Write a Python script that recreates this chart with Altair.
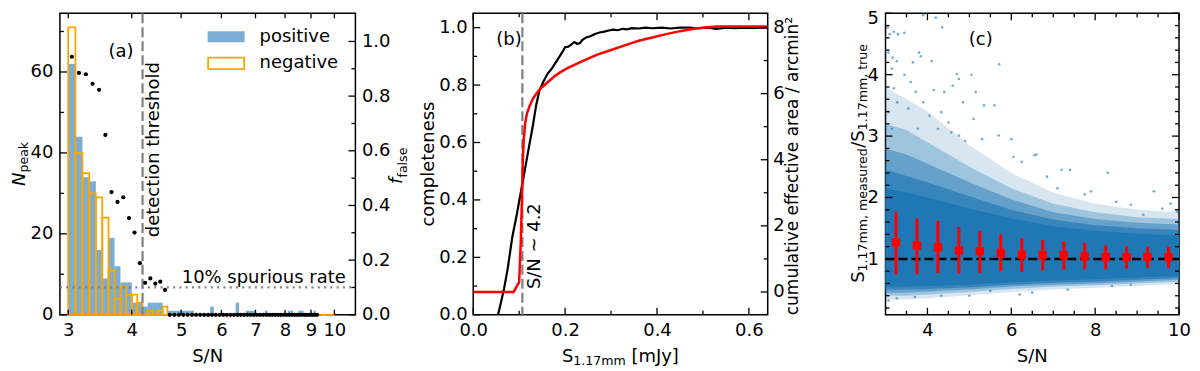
import altair as alt
import pandas as pd

FONT = "DejaVu Sans"
FS = 18.0
FSUB = 12.6
BLUE = "#1f77b4"
ORANGE = "#ffa500"
GREY = "#808080"

WA, WB, WC = 296, 295, 294
H = 302
SPACING = 118
BIN = 0.1

# ---------------- panel (a) data ----------------
pos_lo = [3.0, 3.1, 3.2, 3.3, 3.4, 3.5, 3.6, 3.7, 3.8, 3.9, 4.0, 4.1, 4.2, 4.3, 4.4, 4.5,
          4.7, 4.8, 4.9, 5.0, 5.1, 5.2, 5.7, 6.4, 6.7, 6.8, 6.9, 7.3, 8.1, 8.2, 8.5, 8.6, 9.1]
pos_n = [62, 44, 34, 33, 16, 9, 19, 12, 8, 8, 3, 3, 2, 3, 3, 3,
         1, 1, 1, 1, 1, 1, 2, 3, 1, 1, 1, 1, 1, 1, 1, 1, 1]
neg_lo = [3.0, 3.1, 3.2, 3.3, 3.4, 3.5, 3.6, 3.7, 3.8, 3.9, 4.0, 4.1, 4.2, 4.3, 4.4, 4.5, 4.6,
          4.7, 4.8, 4.9, 5.0, 5.1, 5.2, 5.3, 5.4, 5.5, 5.6, 5.7, 5.8, 5.9, 6.0, 6.1, 6.2,
          6.3, 6.4, 6.5, 6.6, 6.7, 6.8, 6.9, 7.0, 7.1, 7.2, 7.3, 7.4, 7.5, 7.6, 7.7, 7.8,
          7.9, 8.0, 8.1, 8.2, 8.3, 8.4, 8.5, 8.6, 8.7, 8.8, 8.9, 9.0, 9.1, 9.2, 9.3, 9.4,
          9.5, 9.6, 9.7, 9.8, 9.9]
neg_n = [71, 40, 35, 30, 29, 24, 11, 4, 7, 5, 5, 3, 0, 1, 0, 1, 2,
         0, 0, 0, 0, 0, 0, 0, 0, 0, 0, 0, 0, 0, 0, 0, 0,
         0, 0, 0, 0, 0, 0, 0, 0, 0, 0, 0, 0, 0, 0, 0, 0,
         0, 0, 0, 0, 0, 0, 0, 0, 0, 0, 0, 0, 0, 0, 0, 0,
         0, 0, 0, 0, 0]
ff_sn = [3.05, 3.15, 3.25, 3.35, 3.45, 3.55, 3.65, 3.75, 3.85, 3.95, 4.05, 4.15, 4.25,
         4.35, 4.45, 4.55, 4.65, 4.75, 4.85, 4.95, 5.05, 5.15, 5.25, 5.35, 5.45, 5.55,
         5.65, 5.75, 5.85, 5.95, 6.05, 6.15, 6.25, 6.35, 6.45, 6.55, 6.65, 6.75, 6.85,
         6.95, 7.05, 7.15, 7.25, 7.35, 7.45, 7.55, 7.65, 7.75, 7.85, 7.95, 8.05, 8.15,
         8.25, 8.35, 8.45, 8.55, 8.65, 8.75, 8.85, 8.95, 9.05, 9.15, 9.25]
ff_val = [0.944, 0.885, 0.880, 0.845, 0.823, 0.658, 0.449, 0.413, 0.430, 0.354, 0.301,
          0.189, 0.117, 0.133, 0.114, 0.121, 0.091, 0, 0, 0, 0, 0, 0, 0, 0, 0,
          0, 0, 0, 0, 0, 0, 0, 0, 0, 0, 0, 0, 0,
          0, 0, 0, 0, 0, 0, 0, 0, 0, 0, 0, 0, 0,
          0, 0, 0, 0, 0, 0, 0, 0, 0, 0, 0]
threshold_sn = [4.2]
spurious_rate = [0.1]
legend_labels = ["positive", "negative"]

a_xticks = [3, 4, 5, 6, 7, 8, 9, 10]
a_yticks = [0, 20, 40, 60]
a_yminor = [10, 30, 50, 70]
a_fticks = [0.0, 0.2, 0.4, 0.6, 0.8, 1.0]
a_fminor = [0.1, 0.3, 0.5, 0.7, 0.9]

# ---------------- panel (b) data ----------------
comp_s = [0.054, 0.060, 0.067, 0.075, 0.085, 0.095, 0.104, 0.113, 0.122, 0.130, 0.137,
          0.144, 0.152, 0.162, 0.170, 0.178, 0.186, 0.194, 0.200, 0.207, 0.214, 0.220,
          0.226, 0.232, 0.238, 0.246, 0.255, 0.265, 0.275, 0.285, 0.295, 0.305, 0.315,
          0.325, 0.335, 0.345, 0.36, 0.375, 0.39, 0.41, 0.43, 0.45, 0.47, 0.49, 0.51,
          0.53, 0.55, 0.57, 0.59, 0.61, 0.64]
comp_c = [0.0, 0.04, 0.09, 0.16, 0.27, 0.35, 0.43, 0.51, 0.59, 0.66, 0.73,
          0.78, 0.81, 0.84, 0.855, 0.875, 0.895, 0.915, 0.932, 0.934, 0.942, 0.950,
          0.944, 0.946, 0.958, 0.966, 0.970, 0.978, 0.983, 0.986, 0.990, 0.993, 0.991,
          0.996, 0.994, 0.998, 0.997, 1.0, 0.998, 1.0, 0.997, 1.0, 1.0, 0.998, 1.0,
          0.996, 1.0, 0.998, 1.0, 0.999, 1.0]
area_s = [0.0, 0.088, 0.098, 0.100, 0.1035, 0.106, 0.108, 0.110, 0.113, 0.117, 0.122,
          0.130, 0.140, 0.150, 0.160, 0.175, 0.190, 0.205, 0.225, 0.245, 0.27, 0.30,
          0.33, 0.36, 0.39, 0.42, 0.45, 0.48, 0.51, 0.53, 0.64]
area_v = [0.0, 0.0, 0.25, 0.3, 1.5, 2.8, 4.0, 4.6, 5.1, 5.4, 5.6,
          5.85, 6.05, 6.2, 6.32, 6.5, 6.65, 6.77, 6.9, 7.03, 7.18, 7.32,
          7.46, 7.6, 7.7, 7.8, 7.89, 7.96, 8.01, 8.03, 8.03]
sn42_flux = [0.107]

b_xticks = [0.0, 0.2, 0.4, 0.6]
b_xminor = [0.1, 0.3, 0.5]
b_yticks = [0.0, 0.2, 0.4, 0.6, 0.8, 1.0]
b_yminor = [0.1, 0.3, 0.5, 0.7, 0.9]
b_rticks = [0, 2, 4, 6, 8]
b_rminor = [1, 3, 5, 7]

# ---------------- panel (c) data ----------------
band_sn = [3.0, 3.5, 4.0, 5.0, 6.0, 7.0, 8.0, 9.0, 10.0]
core_lo = [0.55, 0.55, 0.56, 0.58, 0.62, 0.65, 0.67, 0.70, 0.72]
core_hi = [2.15, 2.08, 2.0, 1.82, 1.66, 1.53, 1.46, 1.41, 1.38]
b1_lo = [0.50, 0.50, 0.51, 0.54, 0.58, 0.61, 0.63, 0.66, 0.69]
b1_hi = [2.45, 2.35, 2.25, 2.02, 1.80, 1.64, 1.55, 1.50, 1.47]
b2_lo = [0.45, 0.45, 0.47, 0.50, 0.55, 0.58, 0.60, 0.63, 0.66]
b2_hi = [2.80, 2.70, 2.55, 2.25, 1.97, 1.76, 1.65, 1.59, 1.56]
b3_lo = [0.40, 0.40, 0.42, 0.46, 0.51, 0.55, 0.57, 0.60, 0.63]
b3_hi = [3.20, 3.10, 2.90, 2.50, 2.15, 1.90, 1.76, 1.68, 1.65]
b4_lo = [0.34, 0.34, 0.36, 0.41, 0.46, 0.50, 0.53, 0.56, 0.59]
b4_hi = [3.80, 3.60, 3.40, 2.85, 2.40, 2.08, 1.90, 1.80, 1.76]

out_sn = [3.05, 3.1, 3.2, 3.3, 3.45, 3.9, 4.2, 4.35, 3.07, 3.17, 3.27, 3.65, 3.8, 3.84, 4.1,
          4.7, 4.75, 5.05, 5.71, 4.15, 4.4, 4.6, 4.85, 5.15, 5.35, 5.1, 5.6, 5.7, 6.0, 5.3,
          4.75, 4.9, 6.55, 6.6, 7.2, 7.4, 8.3, 7.9, 7.75, 9.4, 9.8, 8.85, 8.5, 6.25, 6.05,
          6.85, 7.1, 9.15, 9.6, 9.95, 3.15, 3.45, 3.6, 3.2, 3.72, 3.28, 3.54, 3.9, 4.05,
          4.33, 4.5, 4.57, 4.25, 3.77, 3.07, 3.15,
          6.2, 7.35, 6.5, 3.07, 3.27, 3.7, 4.33, 5.0, 5.5, 8.4, 8.85, 3.02]
out_val = [4.77, 4.66, 4.70, 4.66, 4.68, 4.97, 4.93, 4.77, 4.36, 4.28, 4.22, 4.20, 4.36, 4.30, 4.22,
           4.01, 3.93, 4.0, 4.17, 3.75, 3.72, 3.82, 3.55, 3.72, 3.5, 3.28, 3.5, 3.01, 2.95, 2.95,
           3.01, 2.92, 2.69, 2.7, 2.45, 2.45, 2.4, 2.1, 2.05, 2.1, 1.9, 1.88, 1.93, 2.58, 2.66,
           2.34, 2.15, 1.72, 1.82, 1.77, 4.1, 4.0, 3.88, 3.78, 3.72, 3.55, 3.45, 3.55, 3.33,
           3.39, 3.22, 3.06, 3.12, 3.12, 3.39, 3.12,
           0.42, 0.5, 0.45, 0.32, 0.36, 0.38, 0.4, 0.4, 0.48, 0.56, 0.58, 0.2]

eb_sn = [3.25, 3.75, 4.25, 4.75, 5.25, 5.75, 6.25, 6.75, 7.25, 7.75, 8.25, 8.75, 9.25, 9.75]
eb_med = [1.27, 1.22, 1.19, 1.14, 1.125, 1.10, 1.07, 1.06, 1.06, 1.04, 1.03, 1.03, 1.03, 1.03]
eb_lo = [0.75, 0.75, 0.77, 0.76, 0.77, 0.80, 0.79, 0.81, 0.82, 0.83, 0.83, 0.84, 0.85, 0.85]
eb_hi = [1.77, 1.66, 1.62, 1.52, 1.45, 1.40, 1.34, 1.31, 1.29, 1.26, 1.22, 1.21, 1.20, 1.20]
unity = [1.0]

c_xticks = [4, 6, 8, 10]
c_xminor = [3.5, 4.5, 5, 5.5, 6.5, 7, 7.5, 8.5, 9, 9.5]
c_yticks = [1, 2, 3, 4, 5]
c_yminor = [0.2, 0.4, 0.6, 0.8, 1.2, 1.4, 1.6, 1.8, 2.2, 2.4, 2.6, 2.8, 3.2, 3.4, 3.6, 3.8,
            4.2, 4.4, 4.6, 4.8]

# ---------------- helpers ----------------
def lab_axis(orient, values, fmt, pad, offset=0):
    return alt.Axis(orient=orient, values=values, format=fmt, ticks=False, tickSize=0,
                    domain=False, grid=False, labelFont=FONT, labelFontSize=FS,
                    labelColor="black", labelPadding=pad, labelFlush=False,
                    labelOverlap=False, labelBound=False, labelOffset=offset, title=None)


def txt(s, x, y, size=FS, angle=0, align="center", baseline="middle", style="normal"):
    return alt.Chart(pd.DataFrame({"t": [s]})).mark_text(
        font=FONT, fontSize=size, angle=angle, align=align, baseline=baseline,
        fontStyle=style, color="black").encode(text="t:N", x=alt.value(x), y=alt.value(y))


def dtxt(s, xv, yv, xs, ys, size=FS, angle=0, align="center", baseline="middle"):
    return alt.Chart(pd.DataFrame({"t": [s], "x": [xv], "y": [yv]})).mark_text(
        font=FONT, fontSize=size, angle=angle, align=align, baseline=baseline,
        color="black").encode(text="t:N", x=alt.X("x:Q", scale=xs, axis=None),
                              y=alt.Y("y:Q", scale=ys, axis=None))


def xtick_layers(vals, scale, length):
    b = alt.Chart(pd.DataFrame({"v": vals})).mark_rule(color="black", strokeWidth=1.3)
    ex = alt.X("v:Q", scale=scale, axis=None)
    return [b.encode(x=ex, y=alt.value(H), y2=alt.value(H - length)),
            b.encode(x=ex, y=alt.value(0), y2=alt.value(length))]


def ytick_layer(vals, scale, length, side, W):
    b = alt.Chart(pd.DataFrame({"v": vals})).mark_rule(color="black", strokeWidth=1.3)
    ey = alt.Y("v:Q", scale=scale, axis=None)
    if side == "left":
        return b.encode(y=ey, x=alt.value(0), x2=alt.value(length))
    return b.encode(y=ey, x=alt.value(W), x2=alt.value(W - length))


# ---------------- panel (a) ----------------
xa = alt.Scale(type="log", domain=[2.89, 11.0], nice=False)
ya = alt.Scale(domain=[0, 74.5], nice=False, zero=False)
fa = alt.Scale(domain=[0, 1.103], nice=False, zero=False)

pos_df = pd.DataFrame({"lo": pos_lo, "n": pos_n})
neg_df = pd.DataFrame({"lo": neg_lo, "n": neg_n})

blue = alt.Chart(pos_df).transform_calculate(hi=f"datum.lo + {BIN}").mark_rect(
    color=BLUE, opacity=0.6).encode(
    x=alt.X("lo:Q", scale=xa, axis=lab_axis("bottom", a_xticks, "d", 7)),
    x2="hi:Q",
    y=alt.Y("n:Q", scale=ya, axis=lab_axis("left", a_yticks, "d", 7)),
    y2=alt.datum(0))
orange = alt.Chart(neg_df).transform_calculate(hi=f"datum.lo + {BIN}").mark_rect(
    filled=False, color=ORANGE, strokeWidth=1.8).encode(
    x=alt.X("lo:Q", scale=xa, axis=None), x2="hi:Q",
    y=alt.Y("n:Q", scale=ya, axis=None), y2=alt.datum(0))
thr = alt.Chart(pd.DataFrame({"sn": threshold_sn})).mark_rule(
    color=GREY, strokeDash=[10, 4], strokeWidth=2.2).encode(
    x=alt.X("sn:Q", scale=xa, axis=None), y=alt.value(0), y2=alt.value(H))
spur = alt.Chart(pd.DataFrame({"f": spurious_rate})).mark_rule(
    color=GREY, strokeDash=[2, 4.3], strokeWidth=2.2).encode(
    y=alt.Y("f:Q", scale=fa, axis=None), x=alt.value(0), x2=alt.value(WA))
ffp = alt.Chart(pd.DataFrame({"sn": ff_sn, "f": ff_val})).mark_circle(
    size=18, color="black", opacity=1).encode(
    x=alt.X("sn:Q", scale=xa, axis=None),
    y=alt.Y("f:Q", scale=fa, axis=lab_axis("right", a_fticks, ".1f", 6)))

leg_pos = alt.Chart(pd.DataFrame({"t": [legend_labels[0]]})).mark_rect(
    color=BLUE, opacity=0.6).encode(x=alt.value(148), x2=alt.value(185),
                                    y=alt.value(18), y2=alt.value(29))
leg_neg = alt.Chart(pd.DataFrame({"t": [legend_labels[1]]})).mark_rect(
    filled=False, color=ORANGE, strokeWidth=1.8).encode(
    x=alt.value(148.5), x2=alt.value(184.5), y=alt.value(44.5), y2=alt.value(56))

a_layers = [blue, orange, thr, spur, ffp, leg_pos, leg_neg,
            txt(legend_labels[0], 200, 23.5, align="left"),
            txt(legend_labels[1], 200, 50, align="left"),
            dtxt("(a)", 3.81, 65, xa, ya),
            dtxt("detection threshold", 4.43, 40.8, xa, ya, angle=270),
            dtxt("10% spurious rate", 10.53, 0.116, xa, fa, align="right", baseline="alphabetic"),
            txt("S/N", WA / 2, H + 47.7, baseline="alphabetic"),
            txt("N", -35, H / 2 + 22, angle=270, align="left", baseline="alphabetic", style="italic"),
            txt("peak", -32, H / 2 + 8.5, size=FSUB, angle=270, align="left", baseline="alphabetic"),
            txt("f", WA + 47, H / 2 + 20, angle=270, align="left", baseline="alphabetic", style="italic"),
            txt("false", WA + 52, H / 2 + 13.5, size=FSUB, angle=270, align="left", baseline="alphabetic"),
            ]
a_layers += xtick_layers(a_xticks, xa, 5)
a_layers += [ytick_layer(a_yticks, ya, 7, "left", WA), ytick_layer(a_yminor, ya, 4, "left", WA),
             ytick_layer(a_fticks, fa, 7, "right", WA), ytick_layer(a_fminor, fa, 4, "right", WA)]
pa = alt.layer(*a_layers).resolve_scale(y="independent").resolve_axis(
    x="independent", y="independent").properties(width=WA, height=H)

# ---------------- panel (b) ----------------
xb = alt.Scale(domain=[0, 0.641], nice=False, zero=False)
yb = alt.Scale(domain=[0, 1.05], nice=False, zero=False)
rb = alt.Scale(domain=[-0.69, 8.43], nice=False, zero=False)

comp = alt.Chart(pd.DataFrame({"s": comp_s, "c": comp_c})).mark_line(
    color="black", strokeWidth=2.2).encode(
    x=alt.X("s:Q", scale=xb, axis=lab_axis("bottom", b_xticks, ".1f", 7)),
    y=alt.Y("c:Q", scale=yb, axis=lab_axis("left", b_yticks, ".1f", 6)))
areal = alt.Chart(pd.DataFrame({"s": area_s, "a": area_v})).mark_line(
    color="red", strokeWidth=2.5).encode(
    x=alt.X("s:Q", scale=xb, axis=None),
    y=alt.Y("a:Q", scale=rb, axis=lab_axis("right", b_rticks, "d", 5)))
vline_b = alt.Chart(pd.DataFrame({"s": sn42_flux})).mark_rule(
    color=GREY, strokeDash=[10, 4], strokeWidth=2.2).encode(
    x=alt.X("s:Q", scale=xb, axis=None), y=alt.value(0), y2=alt.value(H))

b_layers = [vline_b, comp, areal,
            dtxt("(b)", 0.078, 0.958, xb, yb),
            dtxt("S/N ~ 4.2", 0.135, 0.239, xb, yb, angle=270),
            txt("completeness", -44, H / 2, angle=270),
            txt("cumulative effective area / arcmin²", WB + 25, H / 2 + 2, size=17, angle=270),
            txt("S", WB / 2 - 58.6, H + 47.7, align="left", baseline="alphabetic"),
            txt("1.17mm", WB / 2 - 47.2, H + 50.5, size=FSUB, align="left", baseline="alphabetic"),
            txt("[mJy]", WB / 2 + 11, H + 47.7, align="left", baseline="alphabetic"),
            ]
b_layers += xtick_layers(b_xticks, xb, 7) + xtick_layers(b_xminor, xb, 4)
b_layers += [ytick_layer(b_yticks, yb, 7, "left", WB), ytick_layer(b_yminor, yb, 4, "left", WB),
             ytick_layer(b_rticks, rb, 7, "right", WB), ytick_layer(b_rminor, rb, 4, "right", WB)]
pb = alt.layer(*b_layers).resolve_scale(y="independent").resolve_axis(
    x="independent", y="independent").properties(width=WB, height=H)

# ---------------- panel (c) ----------------
xc = alt.Scale(domain=[3, 10], nice=False, zero=False)
yc = alt.Scale(domain=[0.09, 5], nice=False, zero=False)

band_df = pd.DataFrame({"sn": band_sn, "clo": core_lo, "chi": core_hi,
                        "l1": b1_lo, "h1": b1_hi, "l2": b2_lo, "h2": b2_hi,
                        "l3": b3_lo, "h3": b3_hi, "l4": b4_lo, "h4": b4_hi})
bx = alt.X("sn:Q", scale=xc, axis=None)


def band(lo, hi, op):
    return alt.Chart(band_df).mark_area(color=BLUE, opacity=op).encode(
        x=bx, y=alt.Y(f"{lo}:Q", scale=yc, axis=None), y2=f"{hi}:Q")


top_label_shift = {"condition": {"test": "datum.value >= 5", "value": 5.5}, "value": 0.5}
core = alt.Chart(band_df).mark_area(color=BLUE, opacity=1).encode(
    x=alt.X("sn:Q", scale=xc, axis=lab_axis("bottom", c_xticks, "d", 7)),
    y=alt.Y("clo:Q", scale=yc, axis=lab_axis("left", c_yticks, "d", 7, top_label_shift)),
    y2="chi:Q")
outl = alt.Chart(pd.DataFrame({"sn": out_sn, "v": out_val})).mark_circle(
    size=7, color=BLUE, opacity=0.6).encode(x=bx, y=alt.Y("v:Q", scale=yc, axis=None))
one = alt.Chart(pd.DataFrame({"v": unity})).mark_rule(
    color="black", strokeDash=[9, 4], strokeWidth=2.5).encode(
    y=alt.Y("v:Q", scale=yc, axis=None), x=alt.value(0), x2=alt.value(WC))
eb_df = pd.DataFrame({"sn": eb_sn, "m": eb_med, "lo": eb_lo, "hi": eb_hi})
ebars = alt.Chart(eb_df).mark_rule(color="red", strokeWidth=3).encode(
    x=bx, y=alt.Y("lo:Q", scale=yc, axis=None), y2="hi:Q")
sq = alt.Chart(eb_df).mark_square(size=70, color="red", opacity=1).encode(
    x=bx, y=alt.Y("m:Q", scale=yc, axis=None))

ylab_start = H / 2 + 119
c_layers = [band("l4", "h4", 0.18), band("l3", "h3", 0.3), band("l2", "h2", 0.45),
            band("l1", "h1", 0.65), core, outl, one, ebars, sq,
            dtxt("(c)", 5.27, 4.57, xc, yc),
            txt("S/N", WC / 2, H + 47.7, baseline="alphabetic"),
            txt("S", -22, ylab_start, angle=270, align="left", baseline="alphabetic"),
            txt("1.17mm, measured", -19, ylab_start - 11.4, size=FSUB, angle=270, align="left",
                baseline="alphabetic"),
            txt("/S", -22, ylab_start - 135.3, angle=270, align="left", baseline="alphabetic"),
            txt("1.17mm, true", -19, ylab_start - 152.8, size=FSUB, angle=270, align="left",
                baseline="alphabetic"),
            ]
c_layers += xtick_layers(c_xticks, xc, 7) + xtick_layers(c_xminor, xc, 4)
c_layers += [ytick_layer(c_yticks, yc, 7, "left", WC), ytick_layer(c_yminor, yc, 4, "left", WC),
             ytick_layer(c_yticks, yc, 7, "right", WC), ytick_layer(c_yminor, yc, 4, "right", WC)]
pc = alt.layer(*c_layers).resolve_axis(x="independent", y="independent").properties(
    width=WC, height=H)

chart = alt.hconcat(pa, pb, pc, spacing=SPACING, bounds="flush").properties(
    padding={"left": 2, "top": 0, "right": 0, "bottom": 0}
).configure(font=FONT).configure_view(stroke="black", strokeWidth=1.5)

chart.save("out.html", embed_options={"renderer": "svg", "actions": False})
